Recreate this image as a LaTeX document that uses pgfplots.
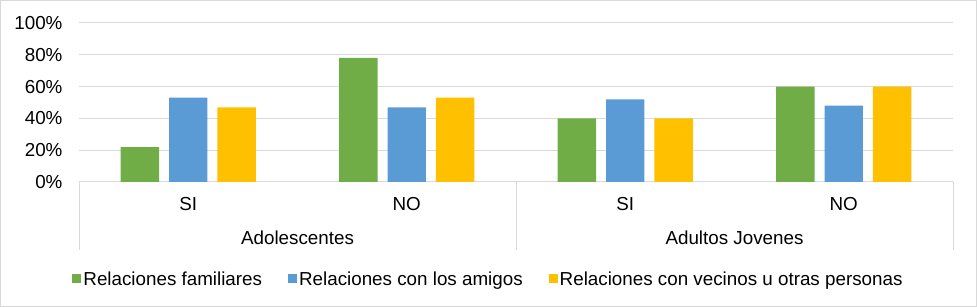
\documentclass[border=0pt]{standalone}
\usepackage{pgfplots}
\pgfplotsset{compat=1.18}
\usepackage{fontspec}
\setmainfont{Liberation Sans}
\definecolor{cgreen}{HTML}{70AD47}
\definecolor{cblue}{HTML}{5B9BD5}
\definecolor{cyellow}{HTML}{FFC000}
\definecolor{cgrid}{HTML}{D9D9D9}
\begin{document}
\begin{tikzpicture}[font=\fontsize{18.8}{22}\selectfont]
\begin{axis}[
  at={(79pt,125pt)}, anchor=south west,
  scale only axis, width=874pt, height=159pt,
  xmin=-0.5, xmax=3.5, ymin=0, ymax=100,
  axis x line*=bottom, axis y line*=left,
  x axis line style={cgrid, line width=1pt},
  y axis line style={draw=none},
  xtick={0,1,2,3}, xticklabels={SI,NO,SI,NO},
  major tick length=0pt,
  xticklabel style={yshift=-12pt},
  extra x ticks={-0.5,1.5,3.5}, extra x tick labels={},
  extra x tick style={major tick length=68pt, xtick align=outside,
     tick style={color=cgrid, line width=1pt}},
  ytick={0,20,40,60,80,100},
  yticklabels={0\%,20\%,40\%,60\%,80\%,100\%},
  ymajorgrids, grid style={cgrid, line width=1pt},
  yticklabel style={xshift=-13pt},
  clip=false,
  legend columns=3,
  legend style={draw=none, at={(0.4685,-0.61)}, anchor=center,
     /tikz/every even column/.append style={column sep=24pt},
     legend cell align=left},
  legend image code/.code={\fill[#1] (0pt,-4.5pt) rectangle (9pt,4.5pt);},
]
\addplot[ybar, fill=cgreen, draw=none, bar width=0.176, bar shift=-0.221]
  coordinates {(0,22) (1,78) (2,40) (3,60)};
\addlegendentry{Relaciones familiares}
\addplot[ybar, fill=cblue, draw=none, bar width=0.176, bar shift=0]
  coordinates {(0,53) (1,47) (2,52) (3,48)};
\addlegendentry{Relaciones con los amigos}
\addplot[ybar, fill=cyellow, draw=none, bar width=0.176, bar shift=0.221]
  coordinates {(0,47) (1,53) (2,40) (3,60)};
\addlegendentry{Relaciones con vecinos u otras personas}
\node[yshift=-56pt] at (axis cs:0.5,0) {Adolescentes};
\node[yshift=-56pt] at (axis cs:2.5,0) {Adultos Jovenes};
\end{axis}
\draw[cgrid, line width=1pt] (0.5pt,0.5pt) rectangle (976.5pt,306.5pt);
\pgfresetboundingbox
\useasboundingbox (0,0) rectangle (977pt,307pt);
\end{tikzpicture}
\end{document}
